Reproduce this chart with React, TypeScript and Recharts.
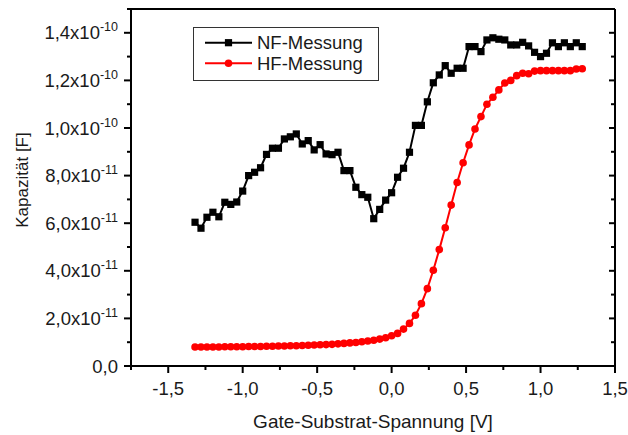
import React from 'react'
import { LineChart, Line, XAxis, YAxis, Legend } from 'recharts'

// gate voltage [V]
const voltages = [
  -1.32, -1.28, -1.24, -1.2, -1.16, -1.12, -1.08, -1.04, -1.0, -0.96, -0.92, -0.88, -0.84, -0.8,
  -0.76, -0.72, -0.68, -0.64, -0.6, -0.56, -0.52, -0.48, -0.44, -0.4, -0.36, -0.32, -0.28, -0.24,
  -0.2, -0.16, -0.12, -0.08, -0.04, 0.0, 0.04, 0.08, 0.12, 0.16, 0.2, 0.24, 0.28, 0.32, 0.36, 0.4,
  0.44, 0.48, 0.52, 0.56, 0.6, 0.64, 0.68, 0.72, 0.76, 0.8, 0.84, 0.88, 0.92, 0.96, 1.0, 1.04,
  1.08, 1.12, 1.16, 1.2, 1.24, 1.28,
]

// NF-Messung [F]
const nfValues = [
  6.04e-11, 5.79e-11, 6.25e-11, 6.46e-11, 6.27e-11, 6.88e-11, 6.79e-11, 6.89e-11, 7.35e-11, 8.0e-11,
  8.14e-11, 8.33e-11, 8.89e-11, 9.15e-11, 9.15e-11, 9.54e-11, 9.63e-11, 9.75e-11, 9.33e-11, 9.47e-11,
  9.08e-11, 9.3e-11, 8.91e-11, 8.88e-11, 8.98e-11, 8.21e-11, 8.21e-11, 7.51e-11, 7.2e-11, 7.09e-11,
  6.19e-11, 6.58e-11, 6.97e-11, 7.28e-11, 7.93e-11, 8.31e-11, 8.98e-11, 1.011e-10, 1.011e-10, 1.11e-10,
  1.19e-10, 1.223e-10, 1.262e-10, 1.23e-10, 1.251e-10, 1.251e-10, 1.342e-10, 1.342e-10, 1.321e-10, 1.37e-10,
  1.379e-10, 1.373e-10, 1.37e-10, 1.349e-10, 1.349e-10, 1.36e-10, 1.345e-10, 1.318e-10, 1.3e-10, 1.314e-10,
  1.358e-10, 1.342e-10, 1.358e-10, 1.342e-10, 1.358e-10, 1.342e-10,
]

// HF-Messung [F]
const hfValues = [
  8.0e-12, 8.0e-12, 8.0e-12, 8.0e-12, 8.0e-12, 8.1e-12, 8.1e-12, 8.1e-12, 8.1e-12, 8.2e-12,
  8.2e-12, 8.2e-12, 8.3e-12, 8.3e-12, 8.4e-12, 8.4e-12, 8.5e-12, 8.5e-12, 8.6e-12, 8.7e-12,
  8.8e-12, 8.9e-12, 9.0e-12, 9.1e-12, 9.3e-12, 9.5e-12, 9.7e-12, 9.9e-12, 1.02e-11, 1.05e-11,
  1.08e-11, 1.13e-11, 1.19e-11, 1.27e-11, 1.37e-11, 1.55e-11, 1.79e-11, 2.13e-11, 2.62e-11, 3.25e-11,
  4.02e-11, 4.89e-11, 5.81e-11, 6.76e-11, 7.71e-11, 8.54e-11, 9.29e-11, 9.96e-11, 1.048e-10, 1.1e-10,
  1.129e-10, 1.16e-10, 1.189e-10, 1.2e-10, 1.22e-10, 1.23e-10, 1.228e-10, 1.239e-10, 1.241e-10, 1.241e-10,
  1.241e-10, 1.241e-10, 1.241e-10, 1.241e-10, 1.248e-10, 1.249e-10,
]

const seriesNames = ['NF-Messung', 'HF-Messung']

const xTicks = [-1.75, -1.5, -1.25, -1.0, -0.75, -0.5, -0.25, 0, 0.25, 0.5, 0.75, 1.0, 1.25, 1.5]
const yTicks = [
  0, 1e-11, 2e-11, 3e-11, 4e-11, 5e-11, 6e-11, 7e-11, 8e-11, 9e-11, 1e-10, 1.1e-10, 1.2e-10,
  1.3e-10, 1.4e-10, 1.5e-10,
]

const data = voltages.map((v, i) => ({ v, nf: nfValues[i], hf: hfValues[i] }))

const FONT = '"Liberation Sans", Arial, sans-serif'
const TEXT = '#1a1a1a'

const XTick = ({ x, y, payload }: any) => {
  const v = payload.value
  const major = Math.abs(Math.round(v * 4)) % 2 === 0
  return (
    <g>
      <line x1={x} x2={x} y1={y} y2={y + (major ? 7 : 4)} stroke="#000" strokeWidth={2} />
      {major && (
        <text x={x} y={y + 29} textAnchor="middle" fontSize={18.5} fontFamily={FONT} fill={TEXT}>
          {v.toFixed(1).replace('.', ',')}
        </text>
      )}
    </g>
  )
}

const YTick = ({ x, y, payload }: any) => {
  const n = Math.round(payload.value / 1e-11)
  const major = n % 2 === 0
  let mant = '0,0'
  let exp = ''
  if (n > 0 && n < 10) {
    mant = n.toFixed(1).replace('.', ',') + 'x10'
    exp = '-11'
  } else if (n >= 10) {
    mant = (n / 10).toFixed(1).replace('.', ',') + 'x10'
    exp = '-10'
  }
  return (
    <g>
      <line x1={x - (major ? 7 : 4)} x2={x} y1={y} y2={y} stroke="#000" strokeWidth={2} />
      {major && n <= 14 && (
        <text x={x - 13} y={y + 6.5} textAnchor="end" fontSize={18.5} fontFamily={FONT} fill={TEXT}>
          {mant}
          {exp && (
            <tspan fontSize={12.5} dy={-8}>
              {exp}
            </tspan>
          )}
        </text>
      )}
    </g>
  )
}

const RightTick = ({ x, y, payload }: any) => {
  const n = Math.round(payload.value / 1e-11)
  const major = n % 2 === 0
  return <line x1={x} x2={x - (major ? 6 : 4)} y1={y} y2={y} stroke="#000" strokeWidth={2} />
}

const SquareDot = (p: any) => {
  if (p.cx == null || p.cy == null) return <g key={`sq-${p.index}`} />
  return <rect key={`sq-${p.index}`} x={p.cx - 3.6} y={p.cy - 3.6} width={7.2} height={7.2} fill="#000" />
}

const LegendBox = ({ payload }: any) => {
  const entries = seriesNames
    .map((name) => (payload || []).find((e: any) => e.value === name))
    .filter(Boolean)
  return (
    <div
      style={{
        width: 186,
        height: 54,
        boxSizing: 'border-box',
        border: '1px solid #333',
        background: '#fff',
      }}
    >
      <svg width={184} height={52}>
        {entries.map((entry: any, i: number) => {
          const cy = 14.7 + i * 20.6
          const color = entry.color
          return (
            <g key={entry.value}>
              <line x1={11} x2={58} y1={cy} y2={cy} stroke={color} strokeWidth={2} />
              {entry.value === 'NF-Messung' ? (
                <rect x={34.5 - 3.6} y={cy - 3.6} width={7.2} height={7.2} fill={color} />
              ) : (
                <circle cx={34.5} cy={cy} r={3.8} fill={color} />
              )}
              <text x={63} y={cy + 6.5} fontSize={18.5} fontFamily={FONT} fill={TEXT}>
                {entry.value}
              </text>
            </g>
          )
        })}
      </svg>
    </div>
  )
}

export default function App() {
  return (
    <div style={{ position: 'absolute', left: 0, top: 0, width: 628, height: 435, background: '#fff' }}>
      <LineChart width={628} height={435} data={data} margin={{ top: 8, right: 12, left: 0, bottom: 0 }}>
        <XAxis
          dataKey="v"
          type="number"
          domain={[-1.75, 1.5]}
          ticks={xTicks}
          interval={0}
          height={69}
          tickSize={0}
          tickMargin={0}
          tickLine={false}
          tick={<XTick />}
          axisLine={{ stroke: '#000', strokeWidth: 2 }}
          allowDataOverflow
          label={{
            content: () => (
              <text x={373} y={428} textAnchor="middle" fontSize={19} fontFamily={FONT} fill={TEXT}>
                Gate-Substrat-Spannung [V]
              </text>
            ),
          }}
        />
        <XAxis
          xAxisId="top"
          dataKey="v"
          type="number"
          orientation="top"
          domain={[-1.75, 1.5]}
          height={1}
          tick={false}
          tickLine={false}
          axisLine={{ stroke: '#000', strokeWidth: 2 }}
          allowDataOverflow
        />
        <YAxis
          type="number"
          domain={[0, 1.5e-10]}
          ticks={yTicks}
          interval={0}
          width={131}
          tickSize={0}
          tickMargin={0}
          tickLine={false}
          tick={<YTick />}
          axisLine={{ stroke: '#000', strokeWidth: 2 }}
          allowDataOverflow
          label={{
            content: () => (
              <text
                x={27.5}
                y={180}
                transform="rotate(-90 27.5 180)"
                textAnchor="middle"
                fontSize={17}
                fontFamily={FONT}
                fill={TEXT}
              >
                Kapazität [F]
              </text>
            ),
          }}
        />
        <YAxis
          yAxisId="right"
          orientation="right"
          type="number"
          domain={[0, 1.5e-10]}
          ticks={yTicks}
          interval={0}
          width={1}
          tickSize={0}
          tickMargin={0}
          tickLine={false}
          tick={<RightTick />}
          axisLine={{ stroke: '#000', strokeWidth: 2 }}
          allowDataOverflow
        />
        <Legend
          layout="vertical"
          align="center"
          verticalAlign="middle"
          wrapperStyle={{ left: 193, top: 27, width: 186, height: 54 }}
          content={<LegendBox />}
        />
        <Line
          name="NF-Messung"
          dataKey="nf"
          type="linear"
          stroke="#000"
          strokeWidth={2}
          dot={SquareDot}
          activeDot={false}
          isAnimationActive={false}
        />
        <Line
          name="HF-Messung"
          dataKey="hf"
          type="linear"
          stroke="#ff0000"
          strokeWidth={2}
          dot={{ r: 3.8, fill: '#ff0000', stroke: '#ff0000', strokeWidth: 0 }}
          activeDot={false}
          isAnimationActive={false}
        />
      </LineChart>
    </div>
  )
}
